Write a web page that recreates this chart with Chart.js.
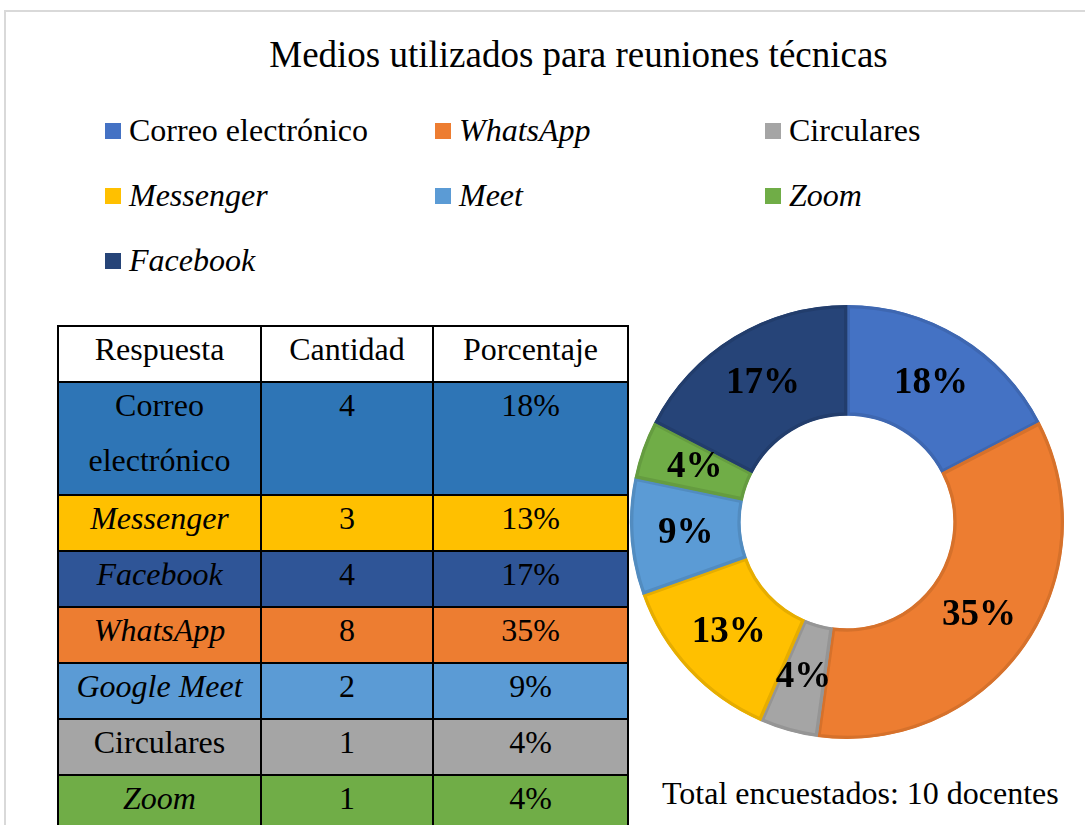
<!DOCTYPE html>
<html>
<head>
<meta charset="utf-8">
<script src="https://cdn.jsdelivr.net/npm/chart.js@4"></script>
<style>
  html, body { margin: 0; padding: 0; background: #fff; overflow: hidden; }
  body { width: 1085px; height: 825px; position: relative; font-family: "Liberation Serif", "Times New Roman", serif; color: #000; }
  #frame { position: absolute; left: 4px; top: 10px; width: 1090px; height: 830px; border: 2px solid #d9d9d9; box-sizing: border-box; }
  #title { position: absolute; left: 0; width: 1157px; top: 33px; text-align: center; font-size: 37px; line-height: 44px; }
  #legend { position: absolute; left: 105px; top: 110px; }
  .leg { position: absolute; white-space: nowrap; font-size: 32px; line-height: 40px; }
  .leg span.box { display: inline-block; width: 16px; height: 16px; margin-right: 8px; vertical-align: 2px; }
  table { position: absolute; left: 57px; top: 325px; border-collapse: collapse; font-size: 32px; }
  td { border: 2px solid #000; padding: 0; text-align: center; vertical-align: top; line-height: 55px; }
  td div { margin-top: -5px; }
  #chartBox { position: absolute; left: 627px; top: 302px; width: 440px; height: 440px; }
  #total { position: absolute; left: 662px; top: 774px; font-size: 32px; line-height: 38px; }
</style>
</head>
<body>
<div id="frame"></div>
<div id="title">Medios utilizados para reuniones técnicas</div>
<div id="legend"></div>
<table id="tbl"></table>
<div id="chartBox"><canvas id="c"></canvas></div>
<div id="total">Total encuestados: 10 docentes</div>
<script>
// doughnut series, clockwise from the top
const categories = ["Correo electrónico", "WhatsApp", "Circulares", "Messenger", "Meet", "Zoom", "Facebook"]
const italicCategory = [false, true, false, true, true, true, true]
const counts = [4, 8, 1, 3, 2, 1, 4]
const percentLabels = ["18%", "35%", "4%", "13%", "9%", "4%", "17%"]
const sliceColors = ["#4472C4", "#ED7D31", "#A5A5A5", "#FFC000", "#5B9BD5", "#70AD47", "#264478"]
const sliceBorders = ["#3E67B1", "#D6712B", "#959595", "#E6AD00", "#528CC0", "#659C40", "#223D6C"]

// table on the left
const tableHeader = ["Respuesta", "Cantidad", "Porcentaje"]
const tableRows = ["Correo<br>electrónico", "Messenger", "Facebook", "WhatsApp", "Google Meet", "Circulares", "Zoom"]
const tableItalic = [false, true, true, true, true, false, true]
const tableCounts = [4, 3, 4, 8, 2, 1, 1]
const tablePercents = ["18%", "13%", "17%", "35%", "9%", "4%", "4%"]
const tableColors = ["#2E75B6", "#FFC000", "#2F5597", "#ED7D31", "#5B9BD5", "#A5A5A5", "#70AD47"]

// legend
const legend = document.getElementById("legend")
categories.forEach((name, i) => {
  const el = document.createElement("div")
  el.className = "leg"
  el.style.left = (i % 3) * 330 + "px"
  el.style.top = Math.floor(i / 3) * 65 + "px"
  el.innerHTML = '<span class="box" style="background:' + sliceColors[i] + '"></span>' +
    '<span style="font-style:' + (italicCategory[i] ? "italic" : "normal") + '">' + name + '</span>'
  legend.appendChild(el)
})

// table
const widths = [203, 172, 195]
let html = "<tr>" + tableHeader.map((h, i) => '<td style="width:' + (widths[i] - 2) + 'px;height:54px"><div>' + h + "</div></td>").join("") + "</tr>"
tableRows.forEach((name, i) => {
  const bg = 'background:' + tableColors[i] + ';'
  const h = i === 0 ? 'height:111px;' : 'height:54px;'
  html += "<tr>" +
    '<td style="' + bg + h + (tableItalic[i] ? 'font-style:italic;' : '') + '"><div>' + name + "</div></td>" +
    '<td style="' + bg + '"><div>' + tableCounts[i] + "</div></td>" +
    '<td style="' + bg + '"><div>' + tablePercents[i] + "</div></td></tr>"
})
document.getElementById("tbl").innerHTML = html

const sliceLabels = {
  id: "sliceLabels",
  afterDatasetsDraw(chart) {
    const ctx = chart.ctx
    ctx.save()
    ctx.font = "bold 37px 'Liberation Serif'"
    ctx.fillStyle = "#000"
    ctx.textAlign = "center"
    ctx.textBaseline = "middle"
    chart.getDatasetMeta(0).data.forEach((arc, i) => {
      const p = arc.tooltipPosition()
      ctx.fillText(percentLabels[i], p.x, p.y)
    })
    ctx.restore()
  }
}

new Chart(document.getElementById("c"), {
  type: "doughnut",
  data: {
    labels: categories,
    datasets: [{
      data: counts,
      backgroundColor: sliceColors,
      borderColor: sliceBorders,
      borderWidth: 3,
      borderAlign: "inner"
    }]
  },
  options: {
    responsive: true,
    maintainAspectRatio: false,
    animation: false,
    cutout: "49%",
    layout: { padding: 3 },
    plugins: { legend: { display: false }, tooltip: { enabled: false } }
  },
  plugins: [sliceLabels]
})
</script>
</body>
</html>
